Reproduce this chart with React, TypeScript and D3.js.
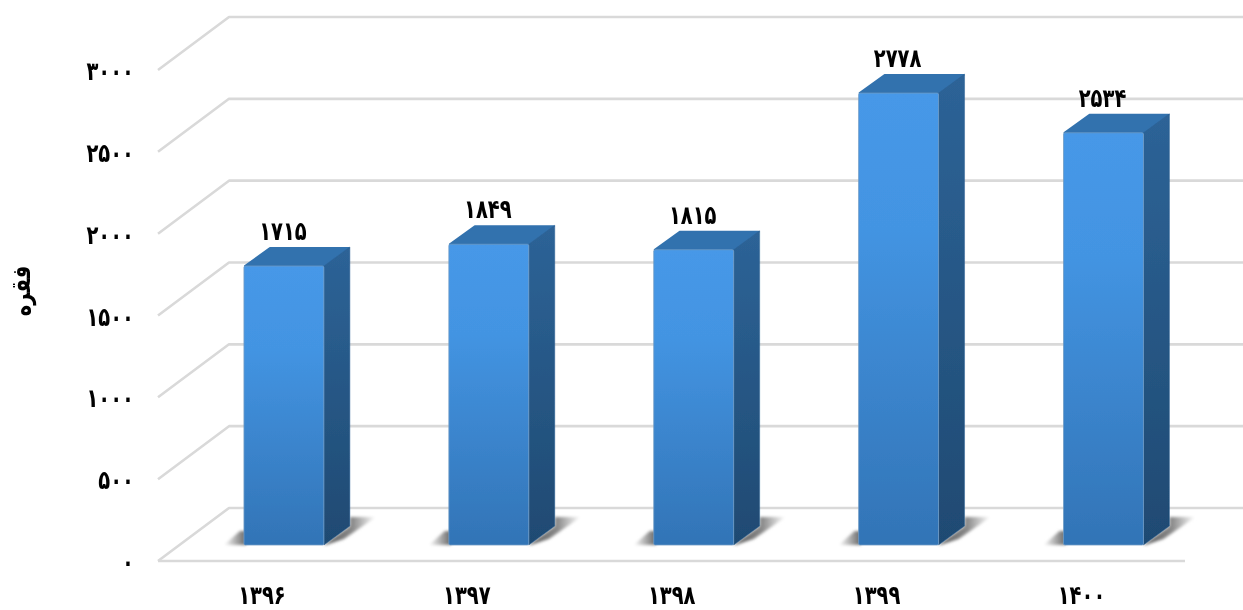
import React from "react";
import * as d3 from "d3";

const categories = ["۱۳۹۶", "۱۳۹۷", "۱۳۹۸", "۱۳۹۹", "۱۴۰۰"];
const values = [1715, 1849, 1815, 2778, 2534];
const valueLabels = ["۱۷۱۵", "۱۸۴۹", "۱۸۱۵", "۲۷۷۸", "۲۵۳۴"];
const tickValues = [0, 500, 1000, 1500, 2000, 2500, 3000];
const tickLabels = ["۰", "۵۰۰", "۱۰۰۰", "۱۵۰۰", "۲۰۰۰", "۲۵۰۰", "۳۰۰۰"];
const axisTitle = "فقره";

const W = 1243, H = 610;
const FONT = "'DejaVu Sans', 'Noto Sans', sans-serif";
const FS = 26, SX = 0.75;

function Label({ x, y, anchor = "middle", rotate = 0, children }: { x: number; y: number; anchor?: string; rotate?: number; children: string }) {
  return (
    <text
      transform={`translate(${x},${y}) rotate(${rotate}) scale(${SX},1)`}
      textAnchor={anchor}
      direction="ltr"
      fontWeight="bold"
      fontSize={FS}
      fill="#000"
      filter="url(#textSoft)"
    >
      {children}
    </text>
  );
}

export default function App() {
  const wall = d3.scaleLinear().domain([0, 3000]).range([561, 70]);
  const barY = d3.scaleLinear().domain([0, 3000]).range([545, 57]);
  const band = d3.scaleBand<string>().domain(categories).range([182.5, 1204.9]).paddingInner(0.61).paddingOuter(0.3);
  const bw = band.bandwidth();
  const dx = 26, dy = 19;
  const gx0 = 158, gx1 = 229, gd = 53;
  const line = d3.line();
  const pts = (a: [number, number][]) => a.map((p) => p.join(",")).join(" ");

  return (
    <svg width={W} height={H} style={{ position: "absolute", left: 0, top: 0, background: "#fff" }} fontFamily={FONT}>
      <defs>
        <linearGradient id="front" x1="0" y1="0" x2="0" y2="1">
          <stop offset="0" stopColor="#4698e8" />
          <stop offset="0.3" stopColor="#4394e2" />
          <stop offset="1" stopColor="#3274b6" />
        </linearGradient>
        <linearGradient id="side" x1="0" y1="0" x2="0" y2="1">
          <stop offset="0" stopColor="#2d6397" />
          <stop offset="1" stopColor="#1f4a72" />
        </linearGradient>
        <linearGradient id="shR" x1="0" y1="0" x2="1" y2="0">
          <stop offset="0" stopColor="#5a5a5a" />
          <stop offset="0.55" stopColor="#8a8a8a" />
          <stop offset="1" stopColor="#fff" />
        </linearGradient>
        <linearGradient id="shL" x1="1" y1="0" x2="0" y2="0">
          <stop offset="0" stopColor="#666" />
          <stop offset="1" stopColor="#fff" />
        </linearGradient>
        <filter id="soft" x="-20%" y="-20%" width="140%" height="140%">
          <feGaussianBlur stdDeviation="1.5" />
        </filter>
        <filter id="edge" x="-5%" y="-5%" width="110%" height="110%">
          <feGaussianBlur stdDeviation="0.4" />
        </filter>
        <filter id="textSoft" x="-10%" y="-10%" width="120%" height="120%">
          <feGaussianBlur stdDeviation="0.25" />
        </filter>
      </defs>

      <g stroke="#d9d9d9" strokeWidth={2.6} fill="none">
        {tickValues.map((t) => (
          <path
            key={t}
            strokeLinejoin="round"
            d={line([[gx0, wall(t)], [gx1, wall(t) - gd], [W, wall(t) - gd]]) ?? ""}
          />
        ))}
        <path d={line([[gx0, wall(0)], [1185, wall(0)]]) ?? ""} />
      </g>

      {tickValues.map((t, i) => (
        <Label key={t} x={134} y={wall(t) + 10} anchor="end">
          {tickLabels[i]}
        </Label>
      ))}
      <Label x={30} y={291} rotate={-90}>
        {axisTitle}
      </Label>

      {categories.map((c, i) => {
        const x = band(c) ?? 0;
        const base = barY(0);
        const top = barY(values[i]);
        const rx = x + bw;
        return (
          <g key={c}>
            <polygon
              filter="url(#soft)"
              fill="url(#shR)"
              points={pts([[rx, base], [rx + dx, base - dy], [rx + dx, base - 28], [rx + dx + 26, base - 28], [rx + 20, base - 6], [rx + 2, base]])}
            />
            <polygon
              filter="url(#soft)"
              fill="url(#shL)"
              points={pts([[x + 2, base], [x - 20, base], [x - 4, base - 14], [x + 2, base - 14]])}
            />
            <g filter="url(#edge)">
              <polygon
                fill="#3272ae"
                stroke="#3272ae"
                strokeWidth={2}
                strokeLinejoin="round"
                points={pts([[x + 1, top], [x + dx, top - dy + 1], [rx + dx - 1, top - dy + 1], [rx, top]])}
              />
              <polygon fill="url(#side)" stroke="#2d6397" strokeWidth={0.5} points={pts([[rx, top], [rx + dx, top - dy], [rx + dx, base - dy], [rx, base]])} />
              <rect x={x} y={top} width={bw} height={base - top} rx={1.5} fill="url(#front)" stroke="#6f9ac4" strokeWidth={0.8} />
            </g>
            <Label x={x + bw / 2 - 1} y={top - 26}>
              {valueLabels[i]}
            </Label>
            <Label x={x + bw / 2 - 22} y={604}>
              {c}
            </Label>
          </g>
        );
      })}
    </svg>
  );
}
